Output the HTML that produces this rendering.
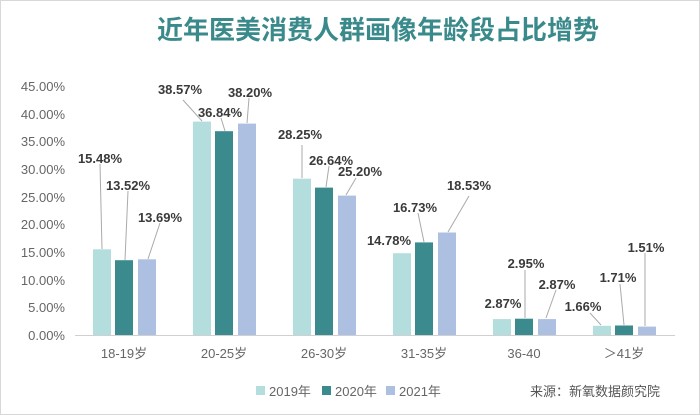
<!DOCTYPE html>
<html><head><meta charset="utf-8"><style>
html,body{margin:0;padding:0;background:#fff;}
svg{display:block;}
</style></head><body>
<svg width="700" height="415" xmlns="http://www.w3.org/2000/svg" font-family="Liberation Sans, Noto Sans CJK SC, sans-serif">
<rect x="0.5" y="0.5" width="699" height="414" fill="#fff" stroke="#d8d8d8"/>
<text x="378" y="39" text-anchor="middle" font-size="26" font-weight="bold" fill="#3a8a8c" font-family="Noto Sans CJK SC, sans-serif">近年医美消费人群画像年龄段占比增势</text>
<g font-size="13" fill="#666" text-anchor="end">
<text x="65" y="340">0.00%</text><text x="65" y="312">5.00%</text><text x="65" y="285">10.00%</text><text x="65" y="257">15.00%</text><text x="65" y="229">20.00%</text><text x="65" y="202">25.00%</text><text x="65" y="174">30.00%</text><text x="65" y="146">35.00%</text><text x="65" y="119">40.00%</text><text x="65" y="91">45.00%</text>
</g>
<line x1="75" y1="335.5" x2="675" y2="335.5" stroke="#d0d0d0"/>
<g>
<rect x="93" y="249.3" width="18" height="85.7" fill="#b4dddd"/><rect x="115" y="260.2" width="18" height="74.8" fill="#3a8a8e"/><rect x="138" y="259.3" width="18" height="75.7" fill="#adc0e2"/>
<rect x="193" y="121.6" width="18" height="213.4" fill="#b4dddd"/><rect x="215" y="131.2" width="18" height="203.8" fill="#3a8a8e"/><rect x="238" y="123.6" width="18" height="211.4" fill="#adc0e2"/>
<rect x="293" y="178.7" width="18" height="156.3" fill="#b4dddd"/><rect x="315" y="187.6" width="18" height="147.4" fill="#3a8a8e"/><rect x="338" y="195.6" width="18" height="139.4" fill="#adc0e2"/>
<rect x="393" y="253.2" width="18" height="81.8" fill="#b4dddd"/><rect x="415" y="242.4" width="18" height="92.6" fill="#3a8a8e"/><rect x="438" y="232.5" width="18" height="102.5" fill="#adc0e2"/>
<rect x="493" y="319.1" width="18" height="15.9" fill="#b4dddd"/><rect x="515" y="318.7" width="18" height="16.3" fill="#3a8a8e"/><rect x="538" y="319.1" width="18" height="15.9" fill="#adc0e2"/>
<rect x="593" y="325.8" width="18" height="9.2" fill="#b4dddd"/><rect x="615" y="325.5" width="18" height="9.5" fill="#3a8a8e"/><rect x="638" y="326.6" width="18" height="8.4" fill="#adc0e2"/>
</g>
<g stroke="#aaa" stroke-width="1">
<line x1="100" y1="164" x2="102" y2="249"/><line x1="128" y1="191" x2="125" y2="260"/><line x1="160" y1="223" x2="148" y2="259"/>
<line x1="183" y1="100" x2="202" y2="121"/><line x1="221" y1="118" x2="225" y2="131"/><line x1="249" y1="98" x2="247" y2="123"/>
<line x1="302" y1="145" x2="302" y2="178"/><line x1="329" y1="166" x2="326" y2="187"/><line x1="356" y1="178" x2="346" y2="195"/>
<line x1="418" y1="213" x2="424" y2="242"/><line x1="469" y1="196" x2="448" y2="232"/>
<line x1="525" y1="270" x2="525" y2="318"/><line x1="556" y1="290" x2="546" y2="318"/>
<line x1="590" y1="313" x2="601" y2="325"/><line x1="620" y1="284" x2="624" y2="325"/><line x1="645" y1="253" x2="645" y2="326"/>
</g>
<g font-size="13" font-weight="bold" fill="#3a3a3a" text-anchor="middle">
<text x="100" y="163">15.48%</text><text x="128" y="190">13.52%</text><text x="160" y="222">13.69%</text>
<text x="180" y="94">38.57%</text><text x="220" y="117">36.84%</text><text x="250" y="97">38.20%</text>
<text x="300" y="139">28.25%</text><text x="331" y="165">26.64%</text><text x="360" y="176">25.20%</text>
<text x="389" y="245">14.78%</text><text x="415" y="212">16.73%</text><text x="469" y="190">18.53%</text>
<text x="503" y="308">2.87%</text><text x="526" y="268">2.95%</text><text x="557" y="289">2.87%</text>
<text x="583" y="311">1.66%</text><text x="618" y="282">1.71%</text><text x="646" y="252">1.51%</text>
</g>
<g font-size="13" fill="#666" text-anchor="middle">
<text x="124" y="358">18-19岁</text><text x="224" y="358">20-25岁</text><text x="324" y="358">26-30岁</text><text x="424" y="358">31-35岁</text><text x="524" y="358">36-40</text><text x="624" y="358">＞41岁</text>
</g>
<g font-size="13" fill="#666">
<rect x="256" y="386" width="9" height="9" fill="#b4dddd"/><text x="269" y="396">2019年</text>
<rect x="322" y="386" width="9" height="9" fill="#3a8a8e"/><text x="335" y="396">2020年</text>
<rect x="386" y="386" width="9" height="9" fill="#adc0e2"/><text x="399" y="396">2021年</text>
<text x="530" y="396" fill="#555">来源：新氧数据颜究院</text>
</g>
</svg>
</body></html>
